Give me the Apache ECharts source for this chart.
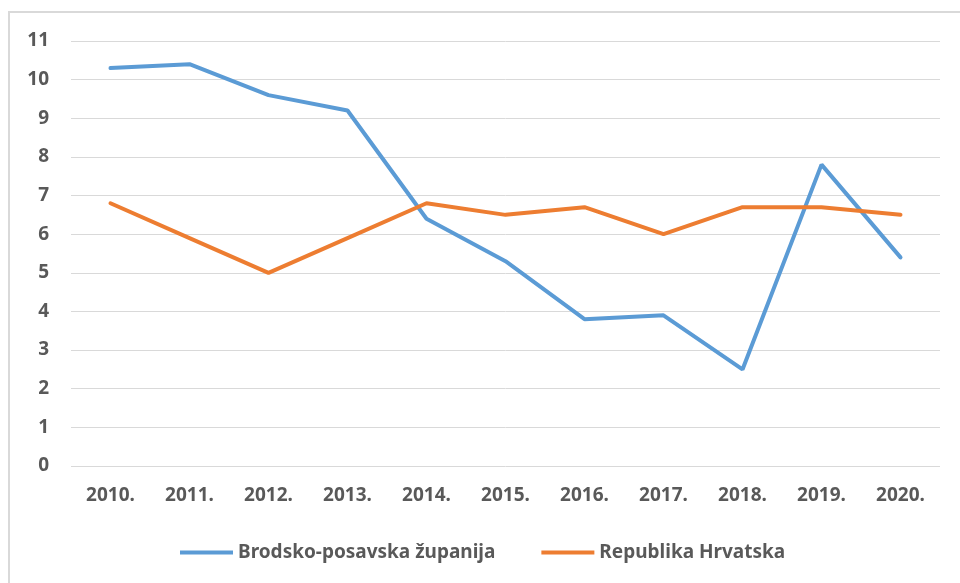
<!DOCTYPE html>
<html lang="hr">
<head>
<meta charset="UTF-8">
<title>Chart</title>
<script src="https://cdn.jsdelivr.net/npm/echarts@6/dist/echarts.min.js"></script>
<style>
    html, body { margin: 0; padding: 0; background: #fff; }
    #frame {
        position: absolute;
        left: 8px;
        top: 11px;
        width: 1000px;
        height: 700px;
        border: 2px solid #d9d9d9;
        box-sizing: border-box;
    }
    #box {
        position: absolute;
        left: 0;
        top: 0;
        width: 960px;
        height: 583px;
    }
</style>
</head>
<body>
<div id="frame"></div>
<div id="box"></div>
<script>
    var years = ['2010.', '2011.', '2012.', '2013.', '2014.', '2015.', '2016.', '2017.', '2018.', '2019.', '2020.'];
    var brodsko = [10.3, 10.4, 9.6, 9.2, 6.4, 5.3, 3.8, 3.9, 2.5, 7.8, 5.4];
    var hrvatska = [6.8, 5.9, 5.0, 5.9, 6.8, 6.5, 6.7, 6.0, 6.7, 6.7, 6.5];
    var names = ['Brodsko-posavska županija', 'Republika Hrvatska'];

    var chartDom = document.getElementById('box');
    var myChart = echarts.init(chartDom);
    var fontFam = '"Noto Sans", "DejaVu Sans", sans-serif';

    var option = {
        animation: false,
        color: ['#5B9BD5', '#ED7D31'],
        grid: {
            left: 71,
            right: 20,
            top: 41,
            bottom: 117
        },
        legend: {
            left: 175,
            top: 538,
            itemWidth: 53,
            itemHeight: 4,
            itemGap: 46,
            icon: 'rect',
            textStyle: {
                color: '#595959',
                fontSize: 19,
                fontWeight: 'bold',
                fontFamily: fontFam
            },
            data: names
        },
        xAxis: {
            type: 'category',
            boundaryGap: true,
            data: years,
            axisLine: { show: false },
            axisTick: { show: false },
            axisLabel: {
                margin: 20,
                color: '#595959',
                fontSize: 19,
                fontWeight: 'bold',
                fontFamily: fontFam
            }
        },
        yAxis: {
            type: 'value',
            min: 0,
            max: 11,
            interval: 1,
            axisLine: { show: false },
            axisTick: { show: false },
            splitLine: { lineStyle: { color: '#d9d9d9', width: 1 } },
            axisLabel: {
                margin: 22,
                color: '#595959',
                fontSize: 19,
                fontWeight: 'bold',
                fontFamily: fontFam
            }
        },
        series: [
            {
                name: names[0],
                type: 'line',
                data: brodsko,
                symbol: 'none',
                lineStyle: { width: 4, cap: 'round' }
            },
            {
                name: names[1],
                type: 'line',
                data: hrvatska,
                symbol: 'none',
                lineStyle: { width: 4, cap: 'round' }
            }
        ]
    };

    option && myChart.setOption(option);
</script>
</body>
</html>
